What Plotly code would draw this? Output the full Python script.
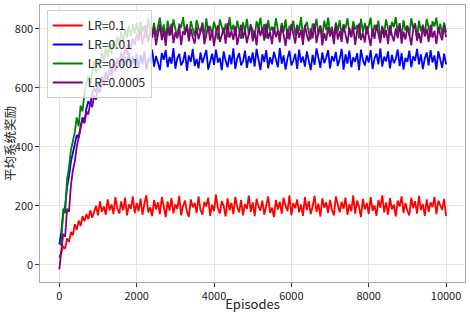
import numpy as np
import plotly.graph_objects as go

labels = ["LR=0.1", "LR=0.01", "LR=0.001", "LR=0.0005"]
colors = ["#ff0000", "#0000ff", "#008000", "#800080"]

lr_0_1 = [
    24, 40, 62, 55, 90, 78, 112, 100, 138, 118,
    150, 132, 165, 148, 172, 155, 185, 160, 178, 200,
    168, 215, 180, 198, 170, 222, 185, 205, 172, 230,
    190, 175, 215, 185, 228, 168, 205, 190, 232, 175,
    210,
    182, 225, 170, 208, 236, 178, 195, 165, 220, 188,
    212, 172, 230, 198, 162, 215, 184, 226, 175, 205,
    190, 234, 168, 200, 218, 180, 163, 222, 195, 210,
    176, 232, 186, 170, 214, 198, 228, 166, 204, 182,
    238, 192, 174, 216, 200, 164, 226, 185, 210, 172,
    230, 196, 178, 220, 168, 206, 190, 235, 180, 212,
    165, 224, 198, 184, 218, 170, 208, 232, 176, 194,
    162, 220, 188, 214, 174, 228, 200, 182, 236, 168,
    210, 192, 222, 178, 204, 166, 230, 186, 216, 172,
    198, 234, 180, 208, 164, 226, 194, 212, 176, 220,
    186, 168, 232, 200, 178, 214, 190, 228, 170, 206,
    182, 236, 174, 218, 196, 162, 224, 188, 210, 172,
    230, 184, 202, 166, 220, 194, 236, 178, 212, 170,
    226, 188, 204, 164, 218, 198, 232, 176, 210, 184,
    168, 228, 192, 216, 174, 234, 186, 206, 166, 222,
    180, 212, 196, 230, 172, 218, 200, 186, 224, 165,
]

lr_0_01 = [
    70, 110, 175, 200, 265, 300, 350, 385, 410, 440,
    430, 470, 500, 485, 530, 555, 540, 580, 600, 585,
    620, 605, 640, 615, 655, 630, 668, 645, 690, 660,
    700, 672, 712, 665, 705, 680, 720, 670, 708, 676,
    715,
    668, 712, 680, 725, 662, 700, 690, 730, 672, 708,
    685, 660, 718, 695, 728, 670, 705, 682, 735, 665,
    700, 715, 676, 690, 722, 658, 710, 688, 732, 674,
    698, 666, 720, 684, 706, 728, 662, 695, 716, 678,
    730, 686, 702, 660, 724, 692, 670, 712, 680, 734,
    664, 700, 718, 676, 690, 726, 668, 708, 684, 720,
    672, 732, 694, 660, 714, 688, 728, 666, 704, 680,
    722, 696, 670, 735, 682, 710, 662, 700, 726, 676,
    692, 716, 664, 730, 686, 706, 672, 724, 690, 660,
    712, 678, 734, 694, 668, 720, 684, 702, 728, 666,
    708, 690, 722, 674, 698, 732, 662, 714, 682, 726,
    670, 704, 688, 718, 660, 730, 694, 676, 710, 686,
    728, 664, 700, 716, 680, 734, 672, 706, 690, 724,
    666, 712, 684, 698, 730, 674, 718, 662, 702, 688,
    726, 670, 708, 692, 732, 680, 714, 664, 700, 720,
    676, 728, 686, 710, 662, 724, 694, 668, 716, 680,
]

lr_0_001 = [
    72, 68, 190, 175, 290, 330, 390, 420, 450, 500,
    470, 540, 520, 585, 610, 640, 615, 660, 690, 650,
    700, 675, 720, 690, 735, 705, 750, 715, 760, 730,
    775, 745, 790, 755, 800, 770, 810, 775, 815, 785,
    820,
    778, 825, 790, 812, 768, 835, 800, 782, 820, 772,
    808, 838, 786, 815, 765, 828, 798, 780, 832, 794,
    770, 818, 804, 840, 784, 812, 766, 826, 796, 775,
    830, 802, 788, 822, 768, 836, 792, 810, 778, 824,
    798, 764, 832, 806, 784, 818, 772, 840, 794, 814,
    776, 828, 800, 766, 822, 790, 834, 780, 812, 796,
    770, 826, 804, 838, 786, 816, 768, 830, 792, 808,
    782, 836, 798, 774, 820, 790, 832, 766, 810, 802,
    828, 778, 814, 794, 840, 772, 806, 824, 786, 764,
    818, 800, 834, 780, 812, 770, 828, 796, 838, 784,
    808, 766, 822, 792, 830, 776, 816, 802, 836, 788,
    772, 826, 798, 812, 768, 834, 790, 820, 782, 806,
    838, 774, 814, 796, 828, 764, 810, 786, 832, 800,
    778, 824, 806, 840, 788, 816, 770, 830, 794, 812,
    776, 836, 802, 820, 766, 828, 792, 814, 784, 834,
    798, 772, 826, 808, 838, 786, 818, 780, 822, 790,
]

lr_0_0005 = [
    -15, 45, 105, 95, 190, 180, 270, 320, 350, 400,
    430, 460, 495, 480, 520, 510, 550, 535, 575, 560,
    600, 585, 625, 605, 645, 625, 660, 640, 680, 655,
    700, 675, 720, 695, 738, 712, 755, 728, 768, 745,
    782,
    760, 798, 748, 785, 812, 755, 790, 770, 808, 745,
    782, 815, 762, 795, 742, 805, 776, 818, 752, 788,
    768, 810, 745, 792, 780, 815, 758, 800, 772, 750,
    806, 765, 790, 818, 748, 784, 810, 760, 796, 742,
    788, 812, 756, 778, 804, 750, 820, 770, 792, 762,
    808, 746, 786, 814, 768, 798, 752, 782, 816, 758,
    794, 744, 810, 776, 802, 760, 818, 766, 790, 748,
    806, 772, 796, 754, 812, 780, 742, 800, 764, 816,
    784, 750, 808, 770, 796, 746, 814, 778, 758, 802,
    768, 818, 752, 790, 810, 744, 786, 760, 806, 774,
    798, 748, 816, 764, 792, 756, 812, 780, 750, 804,
    772, 808, 746, 794, 818, 762, 788, 754, 810, 776,
    742, 800, 766, 814, 784, 752, 806, 770, 796, 748,
    812, 778, 758, 802, 768, 820, 750, 790, 764, 808,
    782, 744, 798, 816, 760, 786, 752, 810, 774, 800,
    756, 814, 770, 794, 748, 806, 780, 762, 812, 772,
]

x_ticks = [0, 2000, 4000, 6000, 8000, 10000]
x_tick_text = ["0", "2000", "4000", "6000", "8000", "10000"]
y_ticks = [0, 200, 400, 600, 800]
max_episode = 10000

series = [lr_0_1, lr_0_01, lr_0_001, lr_0_0005]

fig = go.Figure()
for name, color, vals in zip(labels, colors, series):
    episodes = np.linspace(0, max_episode, len(vals))
    fig.add_trace(go.Scatter(
        x=episodes, y=vals, mode="lines", name=name,
        line=dict(color=color, width=1.8),
    ))

font_family = "Noto Sans CJK SC, DejaVu Sans, sans-serif"
axis_common = dict(
    showgrid=True, gridcolor="#e3e3e3", gridwidth=1,
    showline=True, linecolor="#a8a8a8", linewidth=1.2, mirror=True,
    ticks="outside", ticklen=3.5, tickcolor="#333333", tickwidth=1,
    zeroline=False,
    tickfont=dict(size=11, color="#222222", family=font_family),
)

fig.update_layout(
    width=470, height=313,
    margin=dict(l=40, r=5, t=5, b=31),
    paper_bgcolor="white", plot_bgcolor="white",
    font=dict(family=font_family, color="#222222"),
    xaxis=dict(
        range=[-500, 10490], tickvals=x_ticks, ticktext=x_tick_text,
        title=dict(text="Episodes", font=dict(size=13), standoff=2),
        automargin=False,
        **axis_common,
    ),
    yaxis=dict(
        range=[-58, 881], tickvals=y_ticks,
        title=dict(text="平均系统奖励", font=dict(size=12.5), standoff=6),
        automargin=False,
        **axis_common,
    ),
    legend=dict(
        x=0.016, y=0.982, xanchor="left", yanchor="top",
        bgcolor="rgba(255,255,255,0.8)", bordercolor="#d0d0d0", borderwidth=1,
        font=dict(size=12, family=font_family, color="#222222"),
        itemwidth=30, tracegroupgap=0,
    ),
    showlegend=True,
)

fig.write_html(
    "out.html",
    config={"displayModeBar": False},
    post_script="document.body.style.margin='0px';",
)
